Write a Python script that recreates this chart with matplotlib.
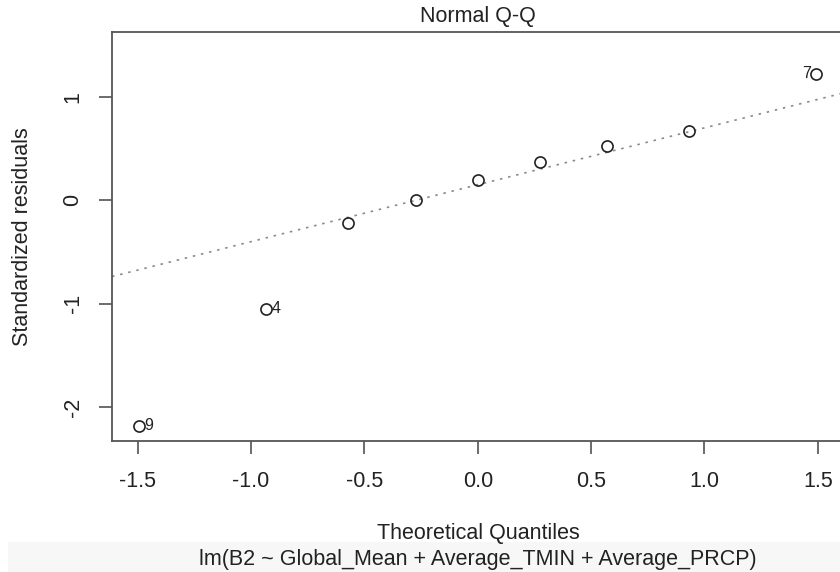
import matplotlib
matplotlib.use("Agg")
import matplotlib.pyplot as plt
from matplotlib.patches import Rectangle
import numpy as np

plt.rcParams["font.family"] = ["Liberation Sans", "DejaVu Sans"]

# theoretical quantiles and standardized residuals
theoretical = [-1.494, -0.932, -0.572, -0.274, 0.0, 0.274, 0.572, 0.932, 1.494]
std_resid = [-2.18, -1.049, -0.22, 0.0, 0.199, 0.371, 0.522, 0.674, 1.226]
obs_ids = ["9", "4", "", "", "", "", "", "", "7"]

xticks = [-1.5, -1.0, -0.5, 0.0, 0.5, 1.0, 1.5]
yticks = [-2, -1, 0, 1]

W, H = 840, 572
fs = 15.5
fig = plt.figure(figsize=(W / 100, H / 100), dpi=100)

# light grey strip at the bottom of the screenshot
fig.patches.append(Rectangle((8 / W, 0), 1 - 8 / W, 30 / H, transform=fig.transFigure,
                             facecolor="#f7f7f7", edgecolor="none", zorder=0))

ax = fig.add_axes([112 / W, (H - 441) / H, 731.5 / W, 409 / H])

x = np.array(theoretical)
y = np.array(std_resid)

# R style limits
xr = [x.min(), x.max()]
xpad = 0.04 * (xr[1] - xr[0])
yr = [y.min(), y.max()]
yr[1] = yr[1] + 0.075 * (yr[1] - yr[0])
ypad = 0.04 * (yr[1] - yr[0])
ax.set_xlim(xr[0] - xpad, xr[1] + xpad)
ax.set_ylim(yr[0] - ypad, yr[1] + ypad)

# qqline through the quartiles
q1, q3 = np.percentile(y, [25, 75])
z = 0.6744897501960817
slope = (q3 - q1) / (2 * z)
icpt = q1 + slope * z
ax.axline((0, icpt), slope=slope, color="#8a8a8a", lw=1.2,
          linestyle=(0, (1.5, 3.5)), zorder=1)

ax.plot(x, y, "o", mfc="none", mec="#222222", ms=8, mew=1.2, zorder=2)

for xi, yi, lab in zip(x, y, obs_ids):
    if not lab:
        continue
    if xi < x.mean():
        ax.annotate(lab, (xi, yi), xytext=(4, 0), textcoords="offset points",
                    ha="left", va="center", fontsize=11.5, color="#222222")
    else:
        ax.annotate(lab, (xi, yi), xytext=(-4, 0), textcoords="offset points",
                    ha="right", va="center", fontsize=11.5, color="#222222")

for s in ax.spines.values():
    s.set_color("#555555")
    s.set_linewidth(1.3)

ax.set_xticks(xticks)
ax.set_xticklabels([f"{t:.1f}" for t in xticks])
ax.set_yticks(yticks)
ax.set_yticklabels([str(t) for t in yticks], rotation=90, va="center")
ax.tick_params(axis="both", direction="out", length=9.5, width=1.1, color="#444444",
               labelsize=fs, labelcolor="#222222")
ax.tick_params(axis="x", pad=12)
ax.tick_params(axis="y", pad=11)

ax.set_title("Normal Q-Q", fontsize=fs, color="#222222", pad=7)

fig.text(23 / W, 1 - 236.5 / H, "Standardized residuals", rotation=90, ha="center",
         va="center", fontsize=fs, color="#222222")
fig.text(478 / W, 1 - 533 / H, "Theoretical Quantiles", ha="center", va="center",
         fontsize=fs, color="#222222")
fig.text(478 / W, 1 - 560 / H, "lm(B2 ~ Global_Mean + Average_TMIN + Average_PRCP)",
         ha="center", va="center", fontsize=fs, color="#222222")

fig.savefig("out.png", dpi=100)
